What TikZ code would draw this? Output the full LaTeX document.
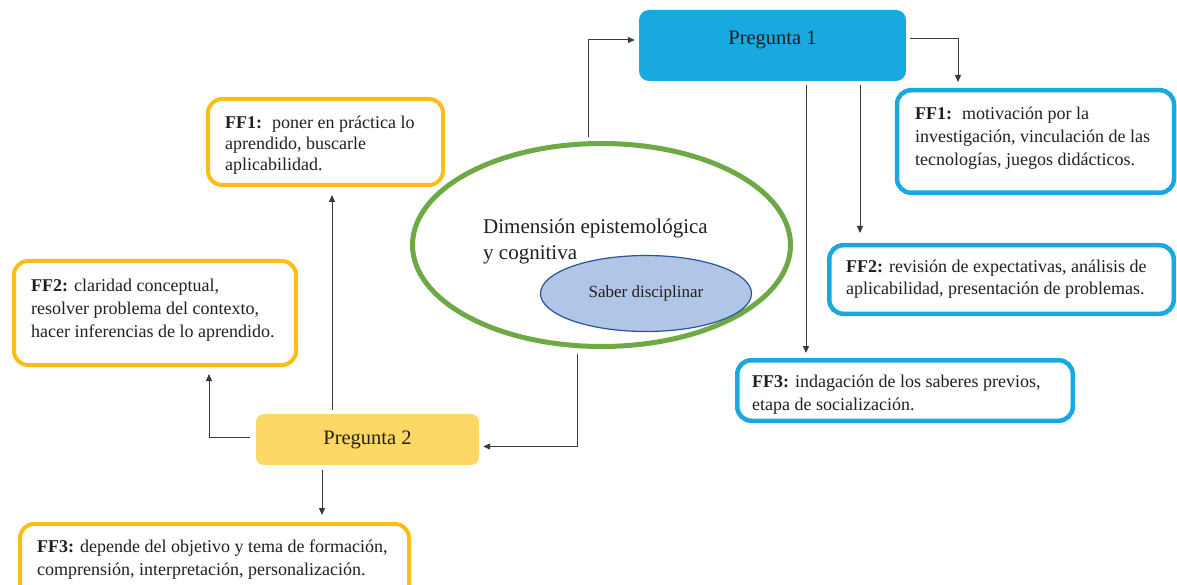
\documentclass[tikz,border=0pt]{standalone}
\usepackage{fontspec}
\setmainfont{Liberation Serif}
\usetikzlibrary{arrows.meta,shapes.geometric,calc}
\definecolor{cyanP}{HTML}{18A9E1}
\definecolor{yelB}{HTML}{FDBD19}
\definecolor{yelF}{HTML}{FDD866}
\definecolor{grn}{HTML}{6DAA45}
\definecolor{sabF}{HTML}{B1C5E6}
\definecolor{sabB}{HTML}{2A5499}
\definecolor{txtc}{HTML}{231F20}
\definecolor{linec}{HTML}{3A3A3A}
\begin{document}
\begin{tikzpicture}[x=1pt,y=-1pt,
  ybox/.style={draw=yelB, line width=4pt, rounded corners=14pt, inner sep=0pt, fill=white},
  bbox/.style={draw=cyanP, line width=4.5pt, rounded corners=14pt, inner sep=0pt, fill=white},
  txt/.style={anchor=north west, inner sep=0pt, align=left, text=txtc, font=\fontsize{18}{23}\selectfont},
  arr/.style={draw=linec, line width=1pt, -{Triangle[length=7pt,width=6pt]}},
  qbox/.style={inner sep=0pt, rounded corners=10pt, text=txtc, font=\fontsize{20.5}{24}\selectfont}]
\clip (0,0) rectangle (1177,585);
\fill[white] (0,0) rectangle (1177,585);

% question boxes
\node[qbox, fill=cyanP, minimum width=267pt, minimum height=71pt] (p1) at (772.5,45.5) {};
\node[inner sep=0pt, text=txtc, font=\fontsize{20.5}{24}\selectfont] (p1t) at (772.5,40) {Pregunta 1};
\node[qbox, fill=yelF, minimum width=223pt, minimum height=51pt, rounded corners=8pt] (p2) at (367.5,439.5) {Pregunta 2};

% central ellipses
\node[ellipse, draw=grn, line width=5pt, inner sep=0pt, minimum width=378pt, minimum height=203pt] (dim) at (601.5,245) {};
\node[anchor=north west, inner sep=0pt, align=left, text=txtc, font=\fontsize{21}{26}\selectfont] (dimt) at (483,219) {Dimensión epistemológica\\y cognitiva};
\node[ellipse, draw=sabB, fill=sabF, line width=1.2pt, inner sep=0pt, minimum width=211pt, minimum height=76pt, text=txtc, font=\fontsize{17}{20}\selectfont] (sab) at (646,293.5) {\raisebox{4pt}{Saber disciplinar}};

% yellow boxes
\node[ybox, minimum width=235pt, minimum height=86pt] (L1) at (325.5,142) {};
\node[txt, font=\fontsize{18}{21}\selectfont] (L1t) at (225,116) {\textbf{FF1:}\hspace{4pt} poner en práctica lo\\aprendido, buscarle\\aplicabilidad.};
\node[ybox, minimum width=282pt, minimum height=104pt] (L2) at (155,313) {};
\node[txt] (L2t) at (31,279) {\textbf{FF2:} claridad conceptual,\\resolver problema del contexto,\\hacer inferencias de lo aprendido.};
\node[ybox, minimum width=389pt, minimum height=76pt] (L3) at (214.5,562) {};
\node[txt] (L3t) at (37,540) {\textbf{FF3:} depende del objetivo y tema de formación,\\comprensión, interpretación, personalización.};

% blue boxes
\node[bbox, minimum width=277pt, minimum height=102.5pt] (R1) at (1035.5,141.5) {};
\node[txt] (R1t) at (915,107) {\textbf{FF1:}\hspace{4pt} motivación por la\\investigación, vinculación de las\\tecnologías, juegos didácticos.};
\node[bbox, minimum width=344.5pt, minimum height=68.5pt] (R2) at (1001.5,279.5) {};
\node[txt, font=\fontsize{18}{22}\selectfont] (R2t) at (846,260) {\textbf{FF2:} revisión de expectativas, análisis de\\aplicabilidad, presentación de problemas.};
\node[bbox, minimum width=335.5pt, minimum height=60.5pt] (R3) at (905,390.5) {};
\node[txt] (R3t) at (752,375) {\textbf{FF3:} indagación de los saberes previos,\\etapa de socialización.};

% connectors
\draw[arr] ([shift={(-13.5,-4)}]dim.north) |- ([shift={(-4,-5.5)}]p1.west);
\draw[arr] ([shift={(4,-6.5)}]p1.east) -| ([shift={(-77.5,-6)}]R1.north);
\coordinate (c860) at ([shift={(87.5,4)}]p1.south);
\draw[arr, shorten >=10pt] (c860) -- (c860 |- R2.north);
\coordinate (c806) at ([shift={(33.5,4)}]p1.south);
\draw[arr, shorten >=5pt] (c806) -- (c806 |- R3.north);
\coordinate (c332) at ([shift={(-35.5,-4)}]p2.north);
\draw[arr, shorten >=8pt] (c332) -- (c332 |- L1.south);
\draw[arr] ([shift={(-6,-2.5)}]p2.west) -| ([shift={(54,7)}]L2.south);
\coordinate (c322) at ([shift={(-45.5,5)}]p2.south);
\draw[arr, shorten >=7pt] (c322) -- (c322 |- L3.north);
\coordinate (c577) at ([shift={(-24.5,5)}]dim.south);
\draw[arr] (c577) |- ([shift={(4,7)}]p2.east);
\end{tikzpicture}
\end{document}
